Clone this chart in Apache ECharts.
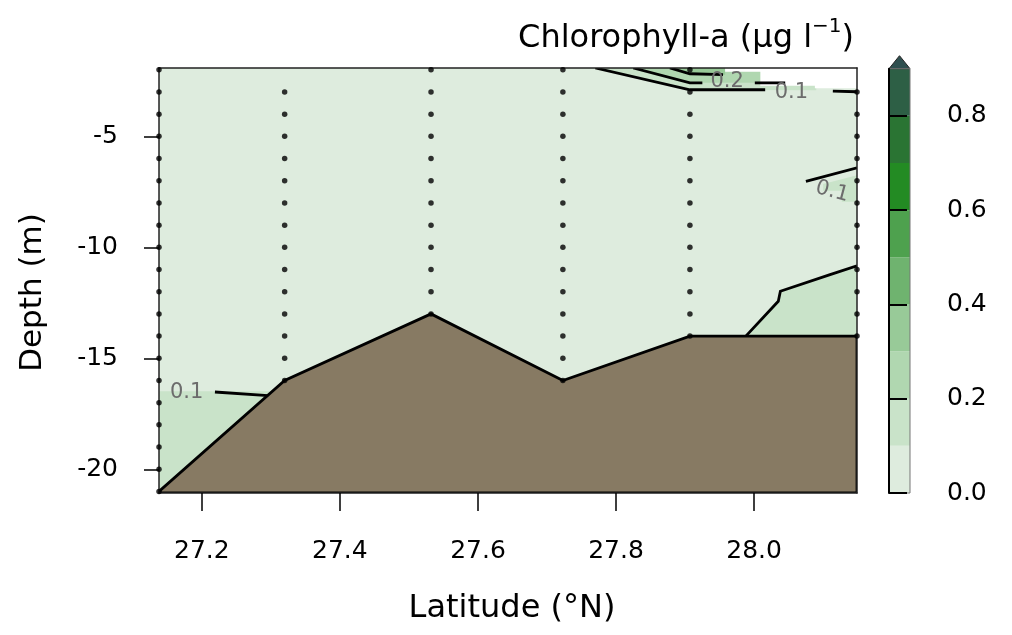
<!DOCTYPE html>
<html>
<head>
<meta charset="utf-8">
<script src="https://cdn.jsdelivr.net/npm/echarts@6/dist/echarts.min.js"></script>
<style>
  html, body { margin: 0; padding: 0; background: #fff; }
  #chart { width: 1012px; height: 635px; }
</style>
</head>
<body>
<div id="chart"></div>
<script>
// axis ranges / ticks
const latRange = [27.138, 28.149];
const depthRange = [-21.07, -1.92];
const latTicks = [27.2, 27.4, 27.6, 27.8, 28.0];
const depthTicks = [-20, -15, -10, -5];
const barTicks = [0, 0.2, 0.4, 0.6, 0.8];

// stations (latitude) and sampled depths
const stationLat = [27.138, 27.320, 27.532, 27.723, 27.907, 28.149];
const stationDepths = [
    [-2, -3, -4, -5, -6, -7, -8, -9, -10, -11, -12, -13, -14, -15, -16, -17, -18, -19, -20, -21],
    [-3, -4, -5, -6, -7, -8, -9, -10, -11, -12, -13, -14, -15, -16],
    [-2, -3, -4, -5, -6, -7, -8, -9, -10, -11, -12, -13],
    [-2, -3, -4, -5, -6, -7, -8, -9, -10, -11, -12, -13, -14, -15, -16],
    [-2, -3, -4, -5, -6, -7, -8, -9, -10, -11, -12, -13, -14],
    [-3, -4, -5, -6, -7, -8, -9, -10, -11, -12, -13, -14]
];

// seabed profile
const seabed = [[27.138, -21], [27.320, -16], [27.532, -13], [27.723, -16], [27.907, -14], [28.149, -14]];

// colour levels (chlorophyll-a, ug/l)
const chlLevels = [0, 0.1, 0.2, 0.3, 0.4, 0.5, 0.6, 0.7, 0.8, 0.9];
const levelColors = ['#deecde', '#c9e3c9', '#b0d7b0', '#98ca98', '#6fb36f', '#4ea14e', '#238b23', '#2a7433', '#2d5f45'];
const overColor = '#2f4f4f';

// filled areas above the 0-0.1 background
const fillLowerLeft = [[27.138, -16.48], [27.3025, -16.48], [27.138, -21]];
const fillLowerRight = [[27.988, -14], [28.035, -12.43], [28.038, -11.98], [28.110, -11.23], [28.149, -10.83], [28.149, -14]];
const fillMidRight = [[28.100, -7.15], [28.149, -6.75], [28.149, -7.95], [28.127, -7.95], [28.127, -7.45], [28.100, -7.45]];
const fillTop1 = [[27.770, -1.92], [27.907, -2.90], [28.090, -2.92], [28.090, -1.92]];
const fillTop2 = [[27.825, -1.92], [27.907, -2.59], [28.045, -2.59], [28.045, -1.92]];
const fillTop3 = [[27.878, -1.92], [27.907, -2.18], [27.958, -2.22], [27.958, -1.92]];
const noData = [[27.958, -1.92], [27.958, -2.09], [28.009, -2.09], [28.009, -2.72], [28.088, -2.72], [28.088, -2.83], [28.149, -2.83], [28.149, -1.92]];

// contour lines
const contourLines = [
    [[27.219, -16.52], [27.296, -16.68]],
    [[27.988, -14], [28.035, -12.43], [28.038, -11.98], [28.110, -11.23], [28.149, -10.83]],
    [[28.075, -7.03], [28.149, -6.42]],
    [[27.770, -1.92], [27.907, -2.90], [28.016, -2.90]],
    [[28.114, -2.96], [28.149, -2.99]],
    [[27.825, -1.92], [27.907, -2.59], [27.925, -2.59]],
    [[28.001, -2.59], [28.045, -2.59]],
    [[27.878, -1.92], [27.907, -2.18], [27.955, -2.22]]
];
// contour labels: text, lat, depth, angle
const contourLabels = [
    ['0.1', 27.178, -16.53, 0],
    ['0.2', 27.961, -2.54, 0],
    ['0.1', 28.054, -3.02, 0],
    ['0.1', 28.113, -7.49, -15]
];

const fontFam = 'DejaVu Sans';

const polySeries = (pts, fill, z, stroke) => ({
    type: 'custom',
    xAxisIndex: 0,
    yAxisIndex: 0,
    data: pts,
    z: z,
    clip: true,
    silent: true,
    renderItem: (params, api) => {
        if (params.dataIndex !== 0) return null;
        return {
            type: 'polygon',
            shape: { points: pts.map(p => api.coord(p)) },
            style: { fill: fill, stroke: stroke || 'none', lineWidth: stroke ? 2.8 : 0 }
        };
    }
});

const lineSeries = (pts) => ({
    type: 'custom',
    xAxisIndex: 0,
    yAxisIndex: 0,
    data: pts,
    z: 6,
    clip: true,
    silent: true,
    renderItem: (params, api) => {
        if (params.dataIndex !== 0) return null;
        return {
            type: 'polyline',
            shape: { points: pts.map(p => api.coord(p)) },
            style: { stroke: '#000', lineWidth: 2.8, fill: 'none' }
        };
    }
});

const seabedPoly = seabed.concat([[latRange[1], depthRange[0]], [latRange[0], depthRange[0]]]);

const series = [
    polySeries(fillLowerLeft, levelColors[1], 2),
    polySeries(fillLowerRight, levelColors[1], 2),
    polySeries(fillMidRight, levelColors[1], 2),
    polySeries(fillTop1, levelColors[1], 2),
    polySeries(fillTop2, levelColors[2], 3),
    polySeries(fillTop3, levelColors[3], 3),
    polySeries(noData, '#ffffff', 4),
    polySeries(seabedPoly, '#877a63', 5, '#000')
];
contourLines.forEach(l => series.push(lineSeries(l)));
series.push({
    type: 'custom',
    xAxisIndex: 0,
    yAxisIndex: 0,
    data: contourLabels.map(d => [d[1], d[2]]),
    z: 7,
    silent: true,
    renderItem: (params, api) => {
        const lb = contourLabels[params.dataIndex];
        const p = api.coord([lb[1], lb[2]]);
        return {
            type: 'text',
            x: p[0],
            y: p[1],
            rotation: lb[3] * Math.PI / 180,
            style: {
                text: lb[0],
                fill: '#6c6c6c',
                fontSize: 21,
                fontFamily: fontFam,
                align: 'center',
                verticalAlign: 'middle'
            }
        };
    }
});
series.push({
    type: 'scatter',
    xAxisIndex: 0,
    yAxisIndex: 0,
    data: stationDepths.flatMap((ds, i) => ds.map(d => [stationLat[i], d])),
    symbolSize: 5.5,
    itemStyle: { color: '#000' },
    z: 12,
    silent: true
});
// colour bar
series.push({
    type: 'custom',
    xAxisIndex: 2,
    yAxisIndex: 2,
    data: levelColors.map((c, i) => [chlLevels[i], chlLevels[i + 1]]),
    z: 2,
    silent: true,
    renderItem: (params, api) => {
        const lo = api.value(0), hi = api.value(1);
        const a = api.coord([0, hi]);
        const b = api.coord([1, lo]);
        return {
            type: 'rect',
            shape: { x: a[0], y: a[1], width: b[0] - a[0], height: b[1] - a[1] },
            style: { fill: levelColors[params.dataIndex] }
        };
    }
});
series.push({
    type: 'custom',
    xAxisIndex: 2,
    yAxisIndex: 2,
    data: [[0, chlLevels[chlLevels.length - 1]]],
    z: 3,
    silent: true,
    clip: false,
    renderItem: (params, api) => {
        const top = chlLevels[chlLevels.length - 1];
        const a = api.coord([0, top]);
        const b = api.coord([1, top]);
        const c = api.coord([0, 0]);
        return {
            type: 'group',
            children: [{
                type: 'polygon',
                shape: { points: [a, b, [(a[0] + b[0]) / 2, a[1] - 13]] },
                style: { fill: overColor, stroke: '#222', lineWidth: 1 }
            }, {
                type: 'rect',
                shape: { x: a[0], y: a[1], width: b[0] - a[0], height: c[1] - a[1] },
                style: { fill: 'none', stroke: '#777', lineWidth: 1 }
            }]
        };
    }
});

const tickLabel = { fontSize: 25, color: '#000', fontFamily: fontFam };
const boxLine = { show: true, onZero: false, lineStyle: { color: '#222', width: 1.5 } };

const option = {
    animation: false,
    title: {
        text: '{m|Chlorophyll-a (\u03bcg l}{s|\u22121}{m|)}',
        right: 153,
        top: 12,
        textStyle: {
            fontWeight: 'normal',
            rich: {
                m: { fontSize: 32, fontFamily: fontFam, fontWeight: 'normal', color: '#000', lineHeight: 38, verticalAlign: 'bottom' },
                s: { fontSize: 20, fontFamily: fontFam, fontWeight: 'normal', color: '#000', lineHeight: 38, verticalAlign: 'top', padding: [0, 0, 0, 0] }
            }
        }
    },
    grid: [
        { left: 159, right: 155, top: 68, bottom: 142, show: true, backgroundColor: levelColors[0], borderWidth: 0 },
        { left: 889, width: 21, top: 68.7, bottom: 142 }
    ],
    xAxis: [{
        type: 'value', gridIndex: 0, min: latRange[0], max: latRange[1], z: 10,
        axisLine: boxLine,
        axisTick: { show: true, length: 18, customValues: latTicks, lineStyle: { color: '#000', width: 1.5 } },
        axisLabel: { customValues: latTicks, formatter: v => v.toFixed(1), margin: 46, ...tickLabel },
        splitLine: { show: false },
        name: 'Latitude (\u00b0N)', nameLocation: 'middle', nameGap: 100,
        nameTextStyle: { fontSize: 32, color: '#000', fontFamily: fontFam, padding: [0, 0, 0, 8] }
    }, {
        type: 'value', gridIndex: 0, position: 'top', min: latRange[0], max: latRange[1], z: 10,
        axisLine: boxLine, axisTick: { show: false }, axisLabel: { show: false }, splitLine: { show: false }
    }, {
        type: 'value', gridIndex: 1, min: 0, max: 1, show: false
    }],
    yAxis: [{
        type: 'value', gridIndex: 0, min: depthRange[0], max: depthRange[1], z: 10,
        axisLine: boxLine,
        axisTick: { show: true, length: 15, customValues: depthTicks, lineStyle: { color: '#000', width: 1.5 } },
        axisLabel: { customValues: depthTicks, formatter: v => String(v), margin: 41, ...tickLabel },
        splitLine: { show: false },
        name: 'Depth (m)', nameLocation: 'middle', nameGap: 111,
        nameTextStyle: { fontSize: 31, color: '#000', fontFamily: fontFam, padding: [0, 24, 0, 0] }
    }, {
        type: 'value', gridIndex: 0, position: 'right', min: depthRange[0], max: depthRange[1], z: 10,
        axisLine: boxLine, axisTick: { show: false }, axisLabel: { show: false }, splitLine: { show: false }
    }, {
        type: 'value', gridIndex: 1, position: 'right', min: 0, max: 0.9, z: 10,
        axisLine: { show: true, lineStyle: { color: '#000', width: 2 } },
        axisTick: { show: true, length: 18, customValues: barTicks, lineStyle: { color: '#000', width: 2 } },
        axisLabel: { customValues: barTicks, formatter: v => v.toFixed(1), margin: 37, ...tickLabel },
        splitLine: { show: false }
    }],
    series: series
};

const chart = echarts.init(document.getElementById('chart'));
chart.setOption(option);
</script>
</body>
</html>
